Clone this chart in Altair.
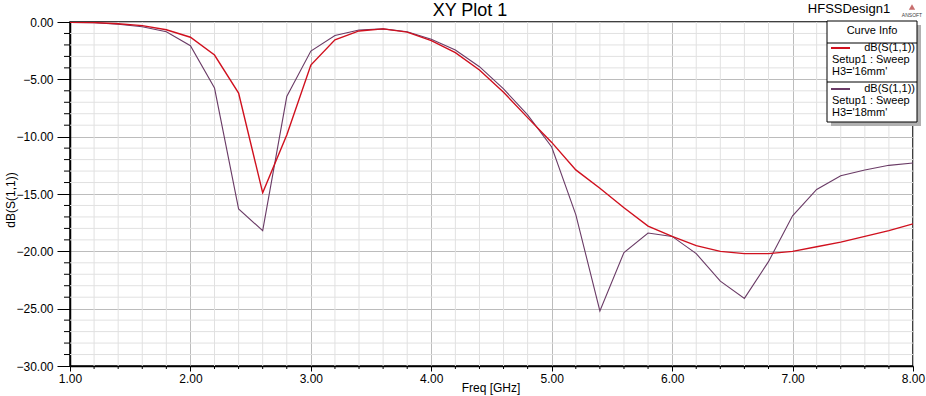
import altair as alt
import pandas as pd

# ---------------- data ----------------
freq = [1.0, 1.2, 1.4, 1.6, 1.8, 2.0, 2.2, 2.4, 2.6, 2.8, 3.0, 3.2, 3.4, 3.6, 3.8,
        4.0, 4.2, 4.4, 4.6, 4.8, 5.0, 5.2, 5.4, 5.6, 5.8, 6.0, 6.2, 6.4, 6.6, 6.8,
        7.0, 7.2, 7.4, 7.6, 7.8, 8.0]
s11_16mm = [-0.02, -0.05, -0.15, -0.32, -0.68, -1.33, -2.88, -6.2, -14.9, -9.85,
            -3.75, -1.55, -0.78, -0.6, -0.88, -1.62, -2.67, -4.19, -6.13, -8.34,
            -10.5, -12.9, -14.5, -16.2, -17.8, -18.7, -19.5, -20.0, -20.2, -20.2,
            -20.0, -19.6, -19.2, -18.7, -18.2, -17.6]
s11_18mm = [-0.03, -0.07, -0.2, -0.42, -0.85, -2.07, -5.76, -16.3, -18.2, -6.5,
            -2.53, -1.17, -0.7, -0.6, -0.85, -1.5, -2.44, -3.9, -5.84, -8.1,
            -10.9, -16.8, -25.2, -20.1, -18.4, -18.7, -20.2, -22.6, -24.1, -20.9,
            -16.9, -14.6, -13.4, -12.9, -12.5, -12.3]
series_names = ["H3='16mm'", "H3='18mm'"]
x_major_ticks = [1.0, 2.0, 3.0, 4.0, 5.0, 6.0, 7.0, 8.0]
x_minor_ticks = [1.2, 1.4, 1.6, 1.8, 2.2, 2.4, 2.6, 2.8, 3.2, 3.4, 3.6, 3.8,
                 4.2, 4.4, 4.6, 4.8, 5.2, 5.4, 5.6, 5.8, 6.2, 6.4, 6.6, 6.8,
                 7.2, 7.4, 7.6, 7.8]
y_major_ticks = [-30, -25, -20, -15, -10, -5, 0]
y_minor_ticks = [-29, -28, -27, -26, -24, -23, -22, -21, -19, -18, -17, -16,
                 -14, -13, -12, -11, -9, -8, -7, -6, -4, -3, -2, -1]

df = pd.DataFrame({
    "freq": freq + freq,
    "db": s11_16mm + s11_18mm,
    "series": [series_names[0]] * len(freq) + [series_names[1]] * len(freq),
})
xminor_df = pd.DataFrame({"freq": x_minor_ticks})
yminor_df = pd.DataFrame({"db": y_minor_ticks})

RED = "#d0101e"
PURPLE = "#6a3b66"
FONT = "Liberation Sans"
W, H = 843, 344
MAJOR_GRID = "#bcbcbc"
MINOR_GRID = "#e1e1e1"

x_axis = alt.Axis(
    values=x_major_ticks, title=None, format=".2f",
    labelFont=FONT, labelFontSize=12, labelColor="black", labelPadding=2,
    labelOverlap=False, labelFlush=False,
    grid=True, gridColor=MAJOR_GRID,
    tickSize=5, tickColor="black", tickWidth=1,
    domainColor="black", domainWidth=1.5,
)
y_axis = alt.Axis(
    values=y_major_ticks, title=None, format=".2f",
    labelFont=FONT, labelFontSize=12, labelColor="black", labelPadding=4,
    labelOverlap=False, labelFlush=False,
    grid=True, gridColor=MAJOR_GRID,
    tickSize=13, tickColor="black", tickWidth=1,
    domainColor="black", domainWidth=1.5,
)

xs = alt.Scale(domain=[1, 8], nice=False, zero=False)
ys = alt.Scale(domain=[-30, 0], nice=False, zero=False)


def X():
    return alt.X("freq:Q", scale=xs, axis=x_axis)


def Y():
    return alt.Y("db:Q", scale=ys, axis=y_axis)


# minor grid lines and minor ticks
x_minor_grid = alt.Chart(xminor_df).mark_rule(color=MINOR_GRID, strokeWidth=1).encode(x=X())
y_minor_grid = alt.Chart(yminor_df).mark_rule(color=MINOR_GRID, strokeWidth=1).encode(y=Y())
x_minor_tick = alt.Chart(xminor_df).mark_rule(color="black", strokeWidth=1).encode(
    x=X(), y=alt.value(H), y2=alt.value(H + 3))
y_minor_tick = alt.Chart(yminor_df).mark_rule(color="black", strokeWidth=1).encode(
    y=Y(), x=alt.value(-6), x2=alt.value(0))

base = alt.Chart(df)
purple_line = base.transform_filter(alt.datum.series == series_names[1]).mark_line(
    color=PURPLE, strokeWidth=1.1, clip=True
).encode(x=X(), y=Y())
red_line = base.transform_filter(alt.datum.series == series_names[0]).mark_line(
    color=RED, strokeWidth=1.4, clip=True
).encode(x=X(), y=Y())

one = pd.DataFrame({"k": [0]})


def text(t, x, y, size=11, align="left", angle=0, color="black"):
    kw = dict(text=t, fontSize=size, font=FONT, align=align, baseline="middle", color=color)
    if angle:
        kw["angle"] = angle
    return alt.Chart(one).mark_text(**kw).encode(x=alt.value(x), y=alt.value(y))


def rect(x1, x2, y1, y2, fill, stroke=None):
    kw = dict(fill=fill)
    if stroke:
        kw.update(stroke=stroke, strokeWidth=1)
    return alt.Chart(one).mark_rect(**kw).encode(
        x=alt.value(x1), x2=alt.value(x2), y=alt.value(y1), y2=alt.value(y2))


def hline(x1, x2, y, color, width=1):
    return alt.Chart(one).mark_rule(color=color, strokeWidth=width).encode(
        x=alt.value(x1), x2=alt.value(x2), y=alt.value(y))


# legend box (Curve Info)
lx1, lx2, ly1, ly2 = 757, 847, -1, 100
legend_layers = [
    rect(lx1 + 4, lx2 + 4, ly1 + 4, ly2 + 4, "#b0b0b0"),
    rect(lx1, lx2, ly1, ly2, "white", "black"),
    text("Curve Info", (lx1 + lx2) / 2, 9, 11, "center"),
    hline(lx1, lx2, 21, "black"),
    hline(761, 780, 26, RED, 2),
    text("dB(S(1,1))", 845, 26, 11, "right"),
    text("Setup1 : Sweep", 762, 38),
    text(series_names[0], 762, 50),
    hline(lx1, lx2, 60, "black"),
    hline(761, 780, 67, PURPLE, 2),
    text("dB(S(1,1))", 845, 67, 11, "right"),
    text("Setup1 : Sweep", 762, 79),
    text(series_names[1], 762, 91),
]

deco = [
    text("XY Plot 1", 400, -11, 18, "center"),
    text("HFSSDesign1", 779, -13, 13, "center"),
    alt.Chart(one).mark_point(shape="triangle-up", filled=True, color="#b03030", size=40).encode(
        x=alt.value(842), y=alt.value(-15)),
    text("ANSOFT", 842, -7, 5, "center", color="#404040"),
    text("Freq [GHz]", 421, 366, 12, "center"),
    text("dB(S(1,1))", -59, 178, 12, "center", angle=270),
]

chart = alt.layer(
    x_minor_grid, y_minor_grid, purple_line, red_line, x_minor_tick, y_minor_tick,
    *legend_layers, *deco
).properties(
    width=W, height=H,
    autosize=alt.AutoSizeParams(type="none"),
    padding={"left": 70, "top": 22, "right": 13, "bottom": 30},
    background="white",
).configure_view(stroke="black", strokeWidth=1.5)

chart.save("out.html", embed_options={"renderer": "svg", "actions": False})
